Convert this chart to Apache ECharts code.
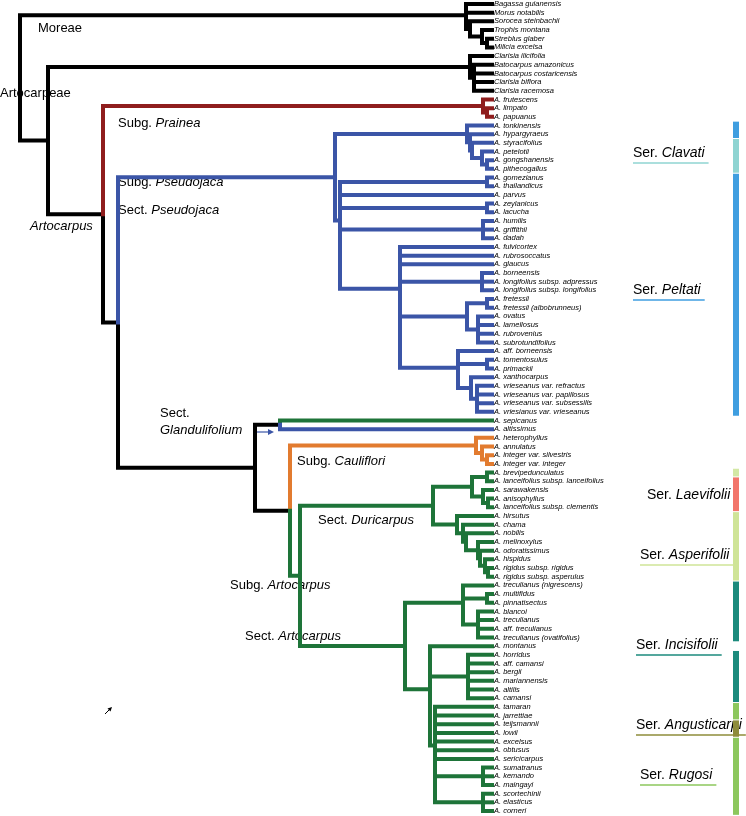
<!DOCTYPE html>
<html><head><meta charset="utf-8">
<script src="https://cdn.jsdelivr.net/npm/echarts@6/dist/echarts.min.js"></script>
<style>html,body{margin:0;padding:0;background:#fff}#c{width:746px;height:816px}</style>
</head><body><div id="c"></div>
<script>
// ---------- DATA ----------
const leaves = [
 'Bagassa guianensis','Morus notabilis','Sorocea steinbachii','Trophis montana','Streblus glaber','Milicia excelsa',
 'Clarisia ilicifolia','Batocarpus amazonicus','Batocarpus costaricensis','Clarisia biflora','Clarisia racemosa',
 'A. frutescens','A. limpato','A. papuanus',
 'A. tonkinensis','A. hypargyraeus','A. styracifolius','A. petelotii','A. gongshanensis','A. pithecogallus',
 'A. gomezianus','A. thailandicus','A. parvus','A. zeylanicus','A. lacucha','A. humilis','A. griffithii','A. dadah',
 'A. fulvicortex','A. rubrosoccatus','A. glaucus','A. borneensis','A. longifolius subsp. adpressus','A. longifolius subsp. longifolius',
 'A. fretessii','A. fretessii (albobrunneus)','A. ovatus','A. lamellosus','A. rubrovenius','A. subrotundifolius',
 'A. aff. borneensis','A. tomentosulus','A. primackii','A. xanthocarpus','A. vrieseanus var. refractus','A. vrieseanus var. papillosus',
 'A. vrieseanus var. subsessilis','A. vriesianus var. vrieseanus',
 'A. sepicanus','A. altissimus',
 'A. heterophyllus','A. annulatus','A. integer var. silvestris','A. integer var. integer',
 'A. brevipedunculatus','A. lanceifolius subsp. lanceifolius','A. sarawakensis','A. anisophyllus','A. lanceifolius subsp. clementis',
 'A. hirsutus','A. chama','A. nobilis','A. melinoxylus','A. odoratissimus','A. hispidus','A. rigidus subsp. rigidus','A. rigidus subsp. asperulus',
 'A. treculianus (nigrescens)','A. multifidus','A. pinnatisectus','A. blancoi','A. treculianus','A. aff. treculianus','A. treculianus (ovatifolius)',
 'A. montanus','A. horridus','A. aff. camansi','A. bergii','A. mariannensis','A. altilis','A. camansi',
 'A. tamaran','A. jarrettiae','A. teijsmannii','A. lowii','A. excelsus','A. obtusus','A. sericicarpus',
 'A. sumatranus','A. kemando','A. maingayi','A. scortechinii','A. elasticus','A. corneri'
];
// clade colour ranges over leaf indices: [key, first, last]
const cladeRanges = [['k',0,10],['r',11,13],['b',14,47],['g',48,48],['b',49,49],['o',50,53],['g',54,93]];
const palette = {k:'#000000', r:'#8f1d1d', b:'#3b55a7', g:'#1e7439', o:'#e27b2f'};

// tree: [nodeDepth, child, child, ...]; a number is a leaf index
const tipDepth = 492;
const moreae   = [466, 0, 1, [470, 2, [482, 3, [487, 4, 5]]]];
const clarisia = [470, 6, [474, 7, 8, 9, 10]];
const prainea  = [483, 11, [487, 12, 13]];
const clavati  = [467, 14, [470, 15, [472, 16, [482, 17, [487, 18, 19]]]]];
const fret     = [467, [487, 34, 35], [478, 36, 37, 38, 39]];
const vrie     = [458, 40, [487, 41, 42], [471, 43, [477, 44, 45, 46, 47]]];
const peltB    = [400, 28, 29, 30, [482, 31, 32, 33], fret, vrie];
const pseudo   = [335, clavati, [340, [487, 20, 21], 22, [487, 23, 24], [483, 25, 26, 27], peltB]];
const gland    = [280, 48, 49];
const caul     = [476, 50, [482, 51, [487, 52, 53]]];
const laev     = [472, [487, 54, 55], [483, 56, [488, 57, 58]]];
const asper    = [457, 59, [463, 60, [466, 61, [478, 62, [480, 63, [485, 64, [488, 65, 66]]]]]]];
const duri     = [433, laev, asper];
const trec     = [463, 67, [487, 68, 69], [478, 70, 71, 72, 73]];
const camansi  = [468, 75, 76, 77, 78, 79, 80];
const rugosi   = [435, 81, 82, 83, 84, 85, 86, 87, [483, 88, 89, 90], [483, 91, 92, 93]];
const sectArt  = [405, trec, [430, 74, camansi, rugosi]];
const subgArt  = [300, duri, sectArt];
const caArt    = [290, caul, subgArt];
const rest     = [255, gland, caArt];
const artocarpus = [103, prainea, [118, pseudo, rest]];
const root     = [20, moreae, [48, clarisia, artocarpus]];

// series bars: [firstLeaf, lastLeaf, colour]
const seriesBars = [[14,15,'#3f9ee0'],[16,19,'#8fd4d2'],[20,47,'#3f9ee0'],[54,54,'#d3e8a5'],[55,58,'#f2766b'],
 [59,66,'#cfe497'],[67,73,'#1b8a7c'],[75,80,'#1b8a7c'],[81,82,'#8cc75d'],[83,84,'#8e8c3a'],[85,93,'#8cc75d']];
// series labels: [name, x, y, underline colour or null]
const seriesLabels = [['Clavati',633,155,'#8fd4d2'],['Peltati',633,292,'#3f9ee0'],['Laevifolii',647,497,null],
 ['Asperifolii',640,557,'#cfe497'],['Incisifolii',636,647,'#1b8a7c'],['Angusticarpi',636,727,'#8e8c3a'],['Rugosi',640,777,'#8cc75d']];
// clade labels: [rich text parts, x, y]
const cladeLabels = [
 [[['n','Moreae']],38,30],[[['n','Artocarpeae']],0,95],
 [[['n','Subg. '],['i','Prainea']],118,125],
 [[['n','Subg. '],['i','Pseudojaca']],118,184],[[['n','Sect. '],['i','Pseudojaca']],118,212],
 [[['i','Artocarpus']],30,228],
 [[['n','Sect.']],160,415],[[['i','Glandulifolium']],160,432],
 [[['n','Subg. '],['i','Cauliflori']],297,463],
 [[['n','Sect. '],['i','Duricarpus']],318,522],
 [[['n','Subg. '],['i','Artocarpus']],230,587],
 [[['n','Sect. '],['i','Artocarpus']],245,638]
];

// ---------- BUILD ----------
const leafColor = [];
cladeRanges.forEach(([k,a,b])=>{for(let i=a;i<=b;i++)leafColor[i]=k;});
const isLeaf = n => typeof n === 'number';
// node height = mean of its children's heights
function nodeY(n){if(isLeaf(n))return n;const c=n.slice(1);return c.reduce((s,v)=>s+nodeY(v),0)/c.length;}
function nodeX(n){return isLeaf(n)?tipDepth:n[0];}
function nodeCol(n){if(isLeaf(n))return leafColor[n];const c=n.slice(1).map(nodeCol);return c.every(v=>v===c[0])?c[0]:'k';}
const segs=[];
function walk(n){if(isLeaf(n))return;const x=n[0],y=nodeY(n);
 n.slice(1).forEach(c=>{segs.push([x,y,x,nodeY(c),nodeX(c),nodeY(c),nodeCol(c)]);walk(c);});}
walk(root);
segs.sort((a,b)=>(a[6]==='k'?0:1)-(b[6]==='k'?0:1));

const FONT='"Liberation Sans", Arial, Helvetica, sans-serif';
const graphic=[];
cladeLabels.forEach(([parts,x,y])=>{
 graphic.push({type:'text',left:x,top:y-8,silent:true,style:{
  rich:{n:{fontSize:13,fontFamily:FONT,fill:'#000'},i:{fontSize:13,fontStyle:'italic',fontFamily:FONT,fill:'#000'}},
  text:parts.map(p=>'{'+p[0]+'|'+p[1]+'}').join('')}});
});
seriesLabels.forEach(([nm,x,y,col])=>{
 graphic.push({type:'text',left:x,top:y-9,silent:true,style:{
  rich:{n:{fontSize:14,fontFamily:FONT,fill:'#000'},i:{fontSize:14,fontStyle:'italic',fontFamily:FONT,fill:'#000'}},
  text:'{n|Ser. }{i|'+nm+'}'}});
});
// arrows
graphic.push({type:'polyline',silent:true,shape:{points:[[253,432],[270,432]]},style:{stroke:'#3b55a7',lineWidth:1.2}});
graphic.push({type:'polygon',silent:true,shape:{points:[[274,432],[268,429],[268,435]]},style:{fill:'#3b55a7'}});
graphic.push({type:'polyline',silent:true,shape:{points:[[105,714],[110,709]]},style:{stroke:'#000',lineWidth:1}});
graphic.push({type:'polygon',silent:true,shape:{points:[[112,707],[107.5,708.5],[110.5,711.5]]},style:{fill:'#000'}});

const chart=echarts.init(document.getElementById('c'),null,{renderer:'canvas'});
chart.setOption({
 animation:false,
 grid:{left:0,right:0,top:4,bottom:5},
 xAxis:{type:'value',min:0,max:746,show:false},
 yAxis:{type:'value',min:0,max:93,inverse:true,show:false},
 series:[
  {type:'custom',silent:true,clip:false,data:segs.map(s=>s.slice(0,6)),
   renderItem:(p,api)=>{const s=segs[p.dataIndex];
    return {type:'polyline',shape:{points:[api.coord([s[0],s[1]]),api.coord([s[2],s[3]]),api.coord([s[4],s[5]])]},
     style:{stroke:palette[s[6]],lineWidth:4,fill:null,lineJoin:'miter',lineCap:'square'}};}},
  {type:'custom',silent:true,clip:false,data:leaves.map((n,i)=>[tipDepth,i]),
   renderItem:(p,api)=>{const c=api.coord([api.value(0),api.value(1)]);
    return {type:'text',x:c[0]+2,y:c[1],style:{text:leaves[p.dataIndex],fontSize:7.5,fontStyle:'italic',fontFamily:FONT,fill:'#000',verticalAlign:'middle'}};}},
  {type:'custom',silent:true,clip:false,data:seriesBars.map(b=>[b[0],b[1]]),
   renderItem:(p,api)=>{const b=seriesBars[p.dataIndex];const a=api.coord([733,b[0]-0.5]),e=api.coord([739,b[1]+0.5]);
    return {type:'rect',shape:{x:a[0],y:a[1]+0.5,width:e[0]-a[0],height:e[1]-a[1]-1},style:{fill:b[2]}};}}
 ],
 graphic:graphic
});
// underlines for series labels, sized by the rendered text
const zr=chart.getZr();
seriesLabels.forEach(([nm,x,y,col])=>{
 if(!col)return;
 const t=new echarts.graphic.Text({style:{rich:{n:{fontSize:14,fontFamily:FONT},i:{fontSize:14,fontStyle:'italic',fontFamily:FONT}},text:'{n|Ser. }{i|'+nm+'}'}});
 const w=t.getBoundingRect().width;
 zr.add(new echarts.graphic.Line({silent:true,shape:{x1:x,y1:y+8,x2:x+w+4,y2:y+8},style:{stroke:col,lineWidth:1.5}}));
});
</script></body></html>
